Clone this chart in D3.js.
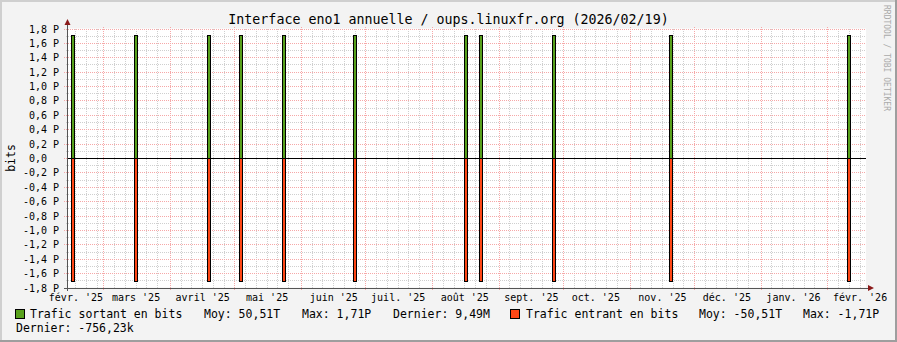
<!DOCTYPE html>
<meta charset="utf-8">
<style>
  body { margin: 0; background: #f3f3f3; }
  svg text { font-family: 'DejaVu Sans Mono', monospace; fill: #000; }
  .tick text { font-size: 10px; }
  .legend { font-size: 11.5px; }
</style>
<body>
<div id="chart"></div>
<script src="https://d3js.org/d3.v7.min.js"></script>
<script>
  // spike days (one per event) and their values, in bits
  var days = ["2025-02-15", "2025-03-16", "2025-04-19", "2025-05-04", "2025-05-24", "2025-06-26",
              "2025-08-17", "2025-08-24", "2025-09-27", "2025-11-20", "2026-02-11"];
  var sortant = [1.71e15, 1.71e15, 1.71e15, 1.71e15, 1.71e15, 1.71e15, 1.71e15, 1.71e15, 1.71e15, 1.71e15, 1.71e15];
  var entrant = [-1.71e15, -1.71e15, -1.71e15, -1.71e15, -1.71e15, -1.71e15, -1.71e15, -1.71e15, -1.71e15, -1.71e15, -1.71e15];

  var moisLabels = ["janv.", "févr.", "mars", "avril", "mai", "juin", "juil.", "août", "sept.", "oct.", "nov.", "déc."];
  var yTicks = d3.range(-9, 10).map(function(k) { return k * 0.2e15; });

  var seriesNames = ["Trafic sortant en bits", "Trafic entrant en bits"];
  var statMoy = ["50,51T", "-50,51T"];
  var statMax = ["1,71P", "-1,71P"];
  var statDernier = ["9,49M", "-756,23k"];

  var W = 897, H = 342;
  var green = "#58a11c", orange = "#ff4716";
  var pL = 67, pR = 866, pT = 28.5, pB = 287.5;

  var svg = d3.select("#chart").append("svg")
    .attr("width", W).attr("height", H);

  // frame
  svg.append("rect").attr("width", W).attr("height", H).attr("fill", "#f3f3f3");
  svg.append("line").attr("x1", 0).attr("x2", W).attr("y1", 1).attr("y2", 1).attr("stroke", "#cfcfcf").attr("stroke-width", 2);
  svg.append("line").attr("x1", 1).attr("x2", 1).attr("y1", 0).attr("y2", H).attr("stroke", "#cfcfcf").attr("stroke-width", 2);
  svg.append("line").attr("x1", 0).attr("x2", W).attr("y1", H - 1).attr("y2", H - 1).attr("stroke", "#9e9e9e").attr("stroke-width", 2);
  svg.append("line").attr("x1", W - 1).attr("x2", W - 1).attr("y1", 0).attr("y2", H).attr("stroke", "#9e9e9e").attr("stroke-width", 2);

  var parse = d3.timeParse("%Y-%m-%d");
  var x = d3.scaleTime()
    .domain([new Date(2025, 1, 12, 2), new Date(2026, 1, 19)])
    .range([pL, pR]);
  var y = d3.scaleLinear().domain([-1.8e15, 1.8e15]).range([pB, pT]);

  // canvas
  svg.append("rect").attr("x", pL).attr("y", pT).attr("width", pR - pL).attr("height", pB - pT).attr("fill", "#fff");

  var grid = svg.append("g").attr("shape-rendering", "crispEdges");
  // minor vertical grid
  var minorX = d3.timeDay.every(5).range(x.domain()[0], x.domain()[1])
    .filter(function(d) { return d.getDate() !== 1 && d.getDate() !== 31; });
  grid.selectAll(".vmin").data(minorX).enter().append("line")
    .attr("x1", function(d) { return Math.round(x(d)) + 0.5; })
    .attr("x2", function(d) { return Math.round(x(d)) + 0.5; })
    .attr("y1", pT).attr("y2", pB + 1)
    .attr("stroke", "#cfcfcf").attr("stroke-dasharray", "1,1");
  // minor horizontal grid
  var minorY = d3.range(-17, 18, 2).map(function(k) { return k * 0.1e15; });
  grid.selectAll(".hmin").data(minorY).enter().append("line")
    .attr("x1", pL - 1).attr("x2", pR)
    .attr("y1", function(d) { return Math.round(y(d)) + 0.5; })
    .attr("y2", function(d) { return Math.round(y(d)) + 0.5; })
    .attr("stroke", "#cfcfcf").attr("stroke-dasharray", "1,1");
  // major grid
  var months = d3.timeMonth.range(x.domain()[0], x.domain()[1]);
  grid.selectAll(".vmaj").data(months).enter().append("line")
    .attr("x1", function(d) { return Math.round(x(d)) + 0.5; })
    .attr("x2", function(d) { return Math.round(x(d)) + 0.5; })
    .attr("y1", pT - 2).attr("y2", pB + 3)
    .attr("stroke", "#f6a8a8").attr("stroke-dasharray", "1,1");
  grid.selectAll(".hmaj").data(yTicks).enter().append("line")
    .attr("x1", pL - 3).attr("x2", pR)
    .attr("y1", function(d) { return Math.round(y(d)) + 0.5; })
    .attr("y2", function(d) { return Math.round(y(d)) + 0.5; })
    .attr("stroke", "#f6a8a8").attr("stroke-dasharray", "1,1");

  // spikes: one day wide, outlined in black
  var data = days.map(function(d, i) { return { t: parse(d), out: sortant[i], inn: entrant[i] }; });
  var spikes = svg.append("g").attr("shape-rendering", "crispEdges");
  spikes.selectAll(".out").data(data).enter().append("rect")
    .attr("x", function(d) { return Math.round(x(d.t)) - 1.5; })
    .attr("y", function(d) { return Math.round(y(d.out)) + 0.5; })
    .attr("width", 3)
    .attr("height", function(d) { return Math.round(y(0)) - Math.round(y(d.out)); })
    .attr("fill", green).attr("stroke", "#000");
  spikes.selectAll(".inn").data(data).enter().append("rect")
    .attr("x", function(d) { return Math.round(x(d.t)) - 1.5; })
    .attr("y", function(d) { return Math.round(y(0)) + 0.5; })
    .attr("width", 3)
    .attr("height", function(d) { return Math.round(y(d.inn)) - Math.round(y(0)); })
    .attr("fill", orange).attr("stroke", "#000");

  // zero rule
  svg.append("line").attr("x1", pL).attr("x2", pR)
    .attr("y1", Math.round(y(0)) + 0.5).attr("y2", Math.round(y(0)) + 0.5)
    .attr("stroke", "#000").attr("shape-rendering", "crispEdges");

  // axes
  var yAxis = d3.axisLeft(y).tickValues(yTicks).tickSize(0).tickPadding(8)
    .tickFormat(function(v) {
      var s = (v / 1e15).toFixed(1).replace(".", ",");
      return Math.abs(v) < 1 ? "0,0" : s + " P";
    });
  var gy = svg.append("g").attr("class", "y axis").attr("transform", "translate(" + pL + ",0)").call(yAxis);
  gy.select(".domain").remove();
  gy.selectAll(".tick text").attr("dy", "0.35em")
    .attr("dx", function(d) { return Math.abs(d) < 1 ? -12 : 0; });

  var labelTicks = d3.timeMonth.range(d3.timeMonth.floor(x.domain()[0]), x.domain()[1])
    .map(function(m) { return d3.timeDay.offset(m, 15); })
    .filter(function(d) { return x(d) >= pL && x(d) <= pR; });
  var xAxis = d3.axisBottom(x).tickValues(labelTicks).tickSize(0).tickPadding(6)
    .tickFormat(function(d) { return moisLabels[d.getMonth()] + " '" + d3.timeFormat("%y")(d); });
  var gx = svg.append("g").attr("class", "x axis").attr("transform", "translate(0," + pB + ")").call(xAxis);
  gx.select(".domain").remove();
  gx.selectAll(".tick text").attr("dy", "0.75em");

  svg.append("line").attr("x1", pL + 0.5).attr("x2", pL + 0.5).attr("y1", pB + 3).attr("y2", 23)
    .attr("stroke", "#555").attr("shape-rendering", "crispEdges");
  svg.append("line").attr("x1", pL - 3).attr("x2", pR + 4).attr("y1", pB + 0.5).attr("y2", pB + 0.5)
    .attr("stroke", "#555").attr("shape-rendering", "crispEdges");
  svg.append("path").attr("d", "M" + (pL - 2.5) + ",25 L" + (pL + 3.5) + ",25 L" + (pL + 0.5) + ",19 Z").attr("fill", "#8b1a1a");
  svg.append("path").attr("d", "M" + (pR + 2) + "," + (pB - 2.5) + " L" + (pR + 2) + "," + (pB + 3.5) + " L" + (pR + 8) + "," + (pB + 0.5) + " Z").attr("fill", "#8b1a1a");

  // titles
  svg.append("text").attr("x", W / 2).attr("y", 23.5).attr("text-anchor", "middle")
    .style("font-size", "13.3px").text("Interface eno1 annuelle / oups.linuxfr.org (2026/02/19)");
  svg.append("text").attr("transform", "translate(15,158) rotate(-90)").attr("text-anchor", "middle")
    .style("font-size", "11.5px").text("bits");
  svg.append("text").attr("transform", "translate(883.5,5) rotate(90)")
    .style("font-size", "8px").style("fill", "#aaa").text("RRDTOOL / TOBI OETIKER");

  // legend
  var lg = svg.append("g").attr("class", "legend");
  function box(xx, col) {
    lg.append("rect").attr("x", xx + 0.5).attr("y", 309.5).attr("width", 9).attr("height", 9)
      .attr("fill", col).attr("stroke", "#000").attr("shape-rendering", "crispEdges");
  }
  function txt(xx, yy, s) { lg.append("text").attr("x", xx).attr("y", yy).text(s); }
  box(15, green);
  txt(30, 318, seriesNames[0]);
  txt(204, 318, "Moy: " + statMoy[0]);
  txt(302, 318, "Max: " + statMax[0]);
  txt(393, 318, "Dernier: " + statDernier[0]);
  box(510, orange);
  txt(526, 318, seriesNames[1]);
  txt(699, 318, "Moy: " + statMoy[1]);
  txt(803, 318, "Max: " + statMax[1]);
  txt(16, 332, "Dernier: " + statDernier[1]);
</script>
</body>
